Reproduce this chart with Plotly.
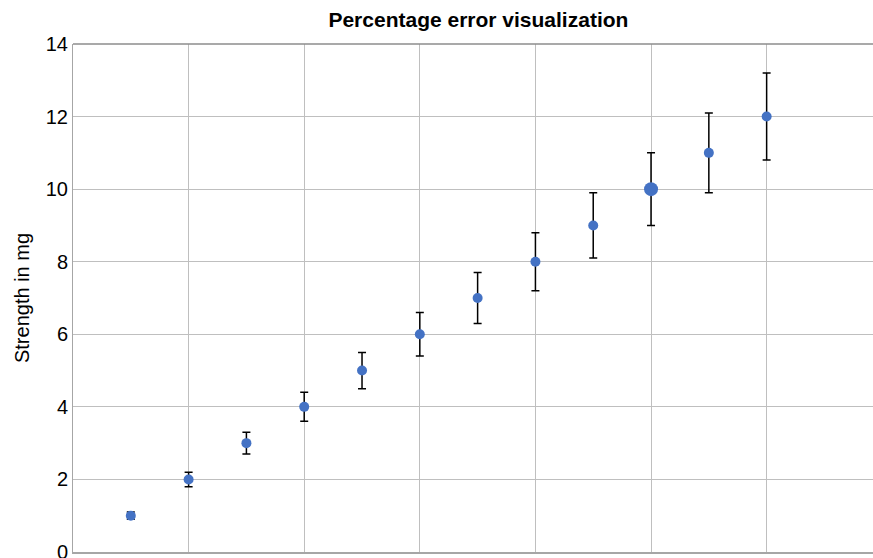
import plotly.graph_objects as go

x_vals = [1, 2, 3, 4, 5, 6, 7, 8, 9, 10, 11, 12]
strength = [1, 2, 3, 4, 5, 6, 7, 8, 9, 10, 11, 12]
error = [0.1, 0.2, 0.3, 0.4, 0.5, 0.6, 0.7, 0.8, 0.9, 1.0, 1.1, 1.2]
marker_sizes = [10, 10, 10, 10, 10, 10, 10, 10, 10, 14, 10, 10]

fig = go.Figure()
fig.add_trace(go.Scatter(
    x=x_vals, y=strength, mode="markers",
    marker=dict(color="#4472C4", size=marker_sizes, opacity=1, line=dict(width=0)),
    error_y=dict(type="data", array=error, visible=True, color="black", thickness=1.5, width=4),
    showlegend=False,
))

fig.update_layout(
    width=873, height=558,
    margin=dict(l=73, r=0, t=44, b=6, autoexpand=False),
    paper_bgcolor="white", plot_bgcolor="white",
    font=dict(family="Liberation Sans, Arial, sans-serif", size=20, color="black"),
    title=dict(text="<b>Percentage error visualization</b>", x=0.548, xanchor="center",
               y=1 - 20 / 558, yanchor="middle", yref="container",
               font=dict(size=21, color="black")),
    xaxis=dict(range=[0, 13.84], dtick=2, tick0=0, showgrid=True, gridcolor="#BFBFBF", gridwidth=1,
               showticklabels=False, zeroline=False, showline=True, linecolor="#A6A6A6", linewidth=2,
               mirror=False, ticks="", automargin=False),
    yaxis=dict(range=[0, 14], dtick=2, showgrid=True, gridcolor="#BFBFBF", gridwidth=1,
               zeroline=False, showline=True, linecolor="#A6A6A6", linewidth=1, ticks="",
               automargin=False, ticklabeloverflow="allow",
               title=dict(text="Strength in mg", font=dict(size=20), standoff=10),
               tickfont=dict(size=20)),
)
fig.add_shape(type="line", xref="paper", yref="paper", x0=0, x1=1, y0=1, y1=1,
              line=dict(color="#8C8C8C", width=1.5))

fig.write_html("out.html", config={"displayModeBar": False},
               post_script="document.body.style.margin='0';document.body.style.overflow='hidden';")
